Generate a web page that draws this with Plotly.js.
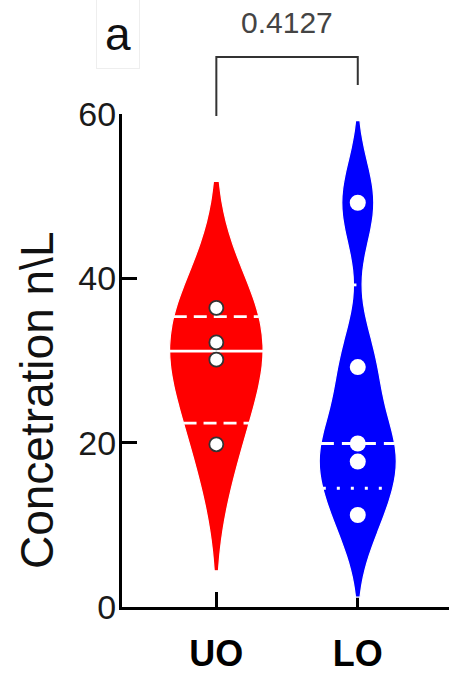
<!DOCTYPE html>
<html>
<head>
<meta charset="utf-8">
<script src="https://cdn.plot.ly/plotly-3.0.1.min.js"></script>
<style>html,body{margin:0;padding:0;background:#fff;}#chart{width:449px;height:676px;}</style>
</head>
<body>
<div id="chart"></div>
<script>
// ---- data ----
const categories = ['UO', 'LO'];
const categoryPos = [0, 1];
const uoValues = [36.4, 32.2, 30.1, 19.8];
const loValues = [49.2, 29.2, 19.9, 17.7, 11.2];
const yTickVals = [0, 20, 40, 60];
const pValueText = '0.4127';
const panelLabel = 'a';
const yTitle = 'Concetration n\\L';

// ---- style ----
const FONT = 'Liberation Sans, Arial, sans-serif';
const styles = [
  {fill: '#ff0000', width: 0.66, bw: 7.7, medDash: 'solid', qDash: '13px,7px', ptLine: '#333333', ptLineW: 1.8, ptSize: 14},
  {fill: '#0000ff', width: 0.545, bw: 5.0, medDash: '13px,8px', qDash: '3px,11px', ptLine: '#ffffff', ptLineW: 0, ptSize: 16}
];
const groups = [uoValues, loValues];

function quartiles(vals) {
  const s = vals.slice().sort((a, b) => a - b);
  const n = s.length;
  const at = r => { // 1-based rank, linear interpolation
    const lo = Math.floor(r), f = r - lo;
    if (lo < 1) return s[0];
    if (lo >= n) return s[n - 1];
    return s[lo - 1] + f * (s[lo] - s[lo - 1]);
  };
  return {q1: at((n + 1) / 4), med: at((n + 1) / 2), q3: at(3 * (n + 1) / 4)};
}
// replica of plotly violin KDE (gaussian), to size the quartile lines
function kdeHalfWidth(vals, bw, width) {
  const n = vals.length;
  const kde = x => {
    let s = 0;
    for (const v of vals) { const u = (x - v) / bw; s += Math.exp(-0.5 * u * u) / Math.sqrt(2 * Math.PI); }
    return s / (n * bw);
  };
  const mn = Math.min(...vals) - 2 * bw, mx = Math.max(...vals) + 2 * bw;
  const dist = mx - mn, steps = Math.ceil(dist / (bw / 3)), step = dist / steps;
  let maxK = 0;
  for (let t = mn; t < mx + step / 2; t += step) maxK = Math.max(maxK, kde(t));
  return y => (width / 2) * kde(y) / maxK;
}

const traces = [];
groups.forEach((vals, i) => {
  const st = styles[i];
  traces.push({
    type: 'violin', x0: categoryPos[i], y: vals, name: categories[i],
    width: st.width, bandwidth: st.bw, spanmode: 'soft', scalemode: 'width',
    fillcolor: st.fill, line: {color: '#ffffff', width: 1.2},
    points: false, box: {visible: false}, meanline: {visible: false},
    hoverinfo: 'skip', showlegend: false
  });
});
groups.forEach((vals, i) => {
  const st = styles[i];
  const q = quartiles(vals);
  const hw = kdeHalfWidth(vals, st.bw, st.width);
  [['q1', st.qDash], ['med', st.medDash], ['q3', st.qDash]].forEach(([k, dash]) => {
    const y = q[k], h = hw(y);
    traces.push({
      type: 'scatter', mode: 'lines', x: [categoryPos[i] - h, categoryPos[i] + h], y: [y, y],
      line: {color: '#ffffff', width: 2.8, dash: dash}, hoverinfo: 'skip', showlegend: false
    });
  });
});
groups.forEach((vals, i) => {
  const st = styles[i];
  traces.push({
    type: 'scatter', mode: 'markers', x: vals.map(() => categoryPos[i]), y: vals,
    marker: {color: '#ffffff', size: st.ptSize, line: {color: st.ptLine, width: st.ptLineW}},
    hoverinfo: 'skip', showlegend: false
  });
});

const layout = {
  width: 449, height: 676,
  margin: {l: 122, r: 0, t: 114, b: 69, pad: 0},
  paper_bgcolor: '#ffffff', plot_bgcolor: '#ffffff',
  showlegend: false,
  font: {family: FONT, color: '#000'},
  xaxis: {
    type: 'linear', range: [-0.667, 1.645], tickvals: categoryPos, ticktext: categories,
    showline: true, linecolor: '#000', linewidth: 3, ticks: 'inside', ticklen: 15, tickwidth: 3, tickcolor: '#000',
    showgrid: false, zeroline: false, layer: 'below traces',
    tickfont: {family: FONT, size: 36, color: '#000', weight: 'bold'}, ticklabelstandoff: 13
  },
  yaxis: {
    range: [0, 60], tickvals: yTickVals,
    showline: true, linecolor: '#000', linewidth: 3, ticks: 'inside', ticklen: 15, tickwidth: 3, tickcolor: '#000',
    showgrid: false, zeroline: false,
    tickfont: {family: FONT, size: 34, color: '#1a1a1a'}, ticklabelstandoff: -4
  },
  shapes: [
    {type: 'path', xref: 'x', yref: 'paper',
     path: `M ${categoryPos[0]} 0.996 L ${categoryPos[0]} 1.1156 L ${categoryPos[1]} 1.1156 L ${categoryPos[1]} 1.0588`,
     line: {color: '#333333', width: 2}}
  ],
  annotations: [
    {text: pValueText, xref: 'x', yref: 'paper', x: (categoryPos[0] + categoryPos[1]) / 2, y: 1.1846,
     showarrow: false, font: {family: FONT, size: 30, color: '#444444'}, xanchor: 'center', yanchor: 'middle'},
    {text: panelLabel, xref: 'paper', yref: 'paper', x: -0.0135, y: 1.163, showarrow: false,
     font: {family: FONT, size: 46, color: '#111'}, xanchor: 'center', yanchor: 'middle',
     bordercolor: '#eeeeee', borderwidth: 1, borderpad: 8, bgcolor: '#ffffff'},
    {text: yTitle, xref: 'paper', yref: 'paper', x: -0.258, y: 0.419, textangle: -90, showarrow: false,
     font: {family: FONT, size: 46, color: '#111'}, xanchor: 'center', yanchor: 'middle'}
  ]
};

Plotly.newPlot('chart', traces, layout, {staticPlot: true, displayModeBar: false});
</script>
</body>
</html>
